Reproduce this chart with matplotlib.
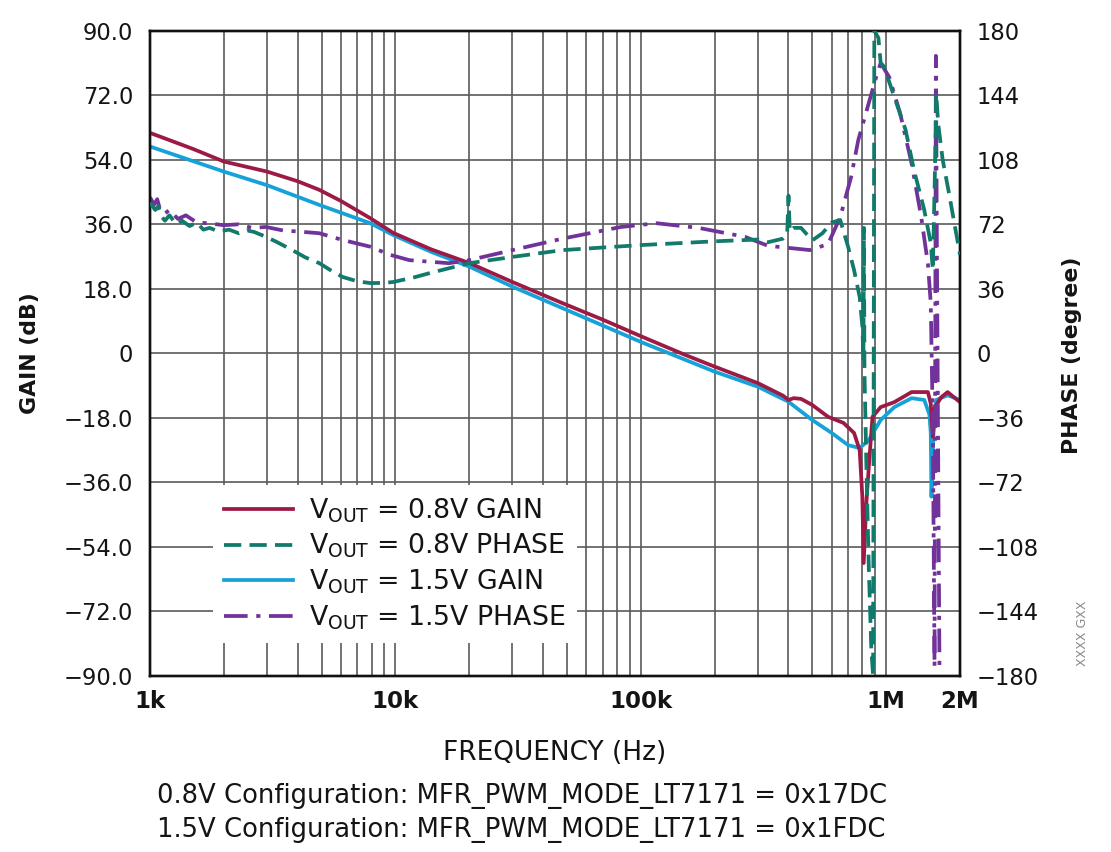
import matplotlib
matplotlib.use("Agg")
import matplotlib.pyplot as plt

plt.rcParams['font.family'] = ['DejaVu Sans']
plt.rcParams['mathtext.default'] = 'regular'

# ---------------- data ----------------
f_gain_08 = [1e3, 1.5e3, 2e3, 3e3, 4e3, 4.9e3, 6e3, 7.9e3, 9.8e3, 14e3, 20e3, 30e3,
             48e3, 70e3, 100e3, 150e3, 200e3, 300e3, 380e3, 400e3, 420e3, 450e3,
             500e3, 580e3, 670e3, 740e3, 780e3, 800e3, 810e3, 830e3, 850e3, 880e3,
             950e3, 1.08e6, 1.27e6, 1.48e6, 1.52e6, 1.55e6, 1.58e6, 1.68e6, 1.78e6, 2e6]
gain_08 = [61.5, 57.0, 53.5, 50.7, 48.0, 45.6, 42.5, 37.7, 33.6, 29.0, 25.2, 19.9,
           14.0, 9.4, 4.8, -0.3, -3.7, -8.3, -11.8, -13.0, -12.5, -12.7,
           -14.4, -17.7, -19.4, -22.2, -27.0, -40.0, -58.5, -42.0, -31.6, -17.7,
           -15.0, -13.6, -10.8, -10.8, -14.0, -23.3, -15.0, -12.2, -10.8, -13.6]

f_gain_15 = [1e3, 1.5e3, 2e3, 3e3, 4.9e3, 7.9e3, 9.8e3, 14e3, 20e3, 30e3, 48e3,
             100e3, 200e3, 300e3, 400e3, 500e3, 600e3, 700e3, 780e3, 850e3, 950e3,
             1.08e6, 1.27e6, 1.43e6, 1.50e6, 1.52e6, 1.53e6, 1.56e6, 1.6e6, 1.78e6, 2e6]
gain_15 = [57.7, 53.6, 50.7, 46.9, 41.4, 36.3, 33.0, 28.3, 24.2, 18.6, 12.6,
           3.2, -5.1, -9.3, -13.5, -18.6, -22.2, -25.6, -26.4, -24.2, -18.6,
           -15.0, -12.5, -13.0, -17.0, -22.2, -40.0, -22.0, -13.0, -11.7, -13.0]

f_phase_08 = [1000, 1050, 1080, 1120, 1150, 1200, 1280, 1350, 1450, 1550, 1650, 1750,
              1900, 2100, 2300, 2500, 2660, 2970, 3300, 3800, 4300, 4900, 5500, 6100,
              7000, 7900, 9000, 9800, 12e3, 14e3, 20e3, 30e3, 48e3, 100e3, 200e3,
              300e3, 330e3, 380e3, 395e3, 400e3, 405e3, 420e3, 450e3, 500e3, 550e3,
              600e3, 650e3, 700e3, 740e3, 780e3, 800e3, 808e3, 812e3, 816e3, 830e3,
              850e3, 870e3, 885e3, 895e3, 930e3, 950e3, 980e3, 1.08e6, 1.2e6, 1.3e6,
              1.43e6, 1.52e6, 1.55e6, 1.58e6, 1.6e6, 1.63e6, 1.7e6, 1.8e6, 1.9e6, 2.0e6]
phase_08 = [84, 80, 82, 76, 74, 77, 72, 74, 71, 73, 69, 70,
            68, 69, 67, 68.5, 67.7, 65, 62, 57.6, 53.5, 50.3, 46, 42.6,
            40.2, 39.2, 39.3, 39.8, 42.5, 45, 50.3, 53.8, 57.6, 60.4, 62.5,
            63.5, 62, 64, 66, 88, 68, 70, 70, 63, 67,
            73, 74.4, 59.4, 46.5, 31.5, 15, -4, 70, -10, -60,
            -120, -165, -180, 180, 176, 162, 160, 143, 124.7, 102,
            80, 61.5, 46.5, 100, 145, 128, 108, 90, 72, 55]

f_phase_15 = [1000, 1040, 1070, 1100, 1150, 1200, 1300, 1400, 1550, 1720, 2000, 2300,
              2600, 2970, 3500, 4000, 4900, 6000, 7900, 9500, 11.4e3, 16.5e3, 20e3,
              30e3, 48e3, 83e3, 116e3, 172e3, 266e3, 330e3, 490e3, 580e3, 650e3,
              720e3, 770e3, 850e3, 910e3, 950e3, 1.03e6, 1.14e6, 1.27e6, 1.39e6,
              1.48e6, 1.52e6, 1.55e6, 1.575e6, 1.595e6, 1.61e6, 1.63e6, 1.65e6]
phase_15 = [87, 83, 86, 80, 78, 80, 75, 77, 73, 72.6, 71.5, 72,
            70, 70.5, 68.5, 68, 67, 63.5, 59.5, 55, 52, 50.3, 52,
            57.6, 64, 70.5, 72.6, 70, 65, 60, 57.6, 61, 76,
            98.4, 119, 139.7, 154, 162, 154, 134, 106, 76,
            50, 28, -40, -175, 166, 60, -60, -178]

gain_ticks = [90, 72, 54, 36, 18, 0, -18, -36, -54, -72, -90]
gain_labels = ['90.0', '72.0', '54.0', '36.0', '18.0', '0', '\u221218.0', '\u221236.0',
               '\u221254.0', '\u221272.0', '\u221290.0']
phase_ticks = [180, 144, 108, 72, 36, 0, -36, -72, -108, -144, -180]
phase_labels = ['180', '144', '108', '72', '36', '0', '\u221236', '\u221272',
                '\u2212108', '\u2212144', '\u2212180']
freq_ticks = [1e3, 1e4, 1e5, 1e6, 2e6]
freq_labels = ['1k', '10k', '100k', '1M', '2M']
minor_ticks = [m * 10 ** e for e in (3, 4, 5) for m in range(2, 10)]

series_labels = [r'V$_{OUT}$ = 0.8V GAIN', r'V$_{OUT}$ = 0.8V PHASE',
                 r'V$_{OUT}$ = 1.5V GAIN', r'V$_{OUT}$ = 1.5V PHASE']

RED = '#9c1a44'
TEAL = '#127a6b'
BLUE = '#16a2d9'
PURPLE = '#71339a'
GRID = '#5a5a5a'
TXT = '#141414'

fig = plt.figure(figsize=(11.11, 8.52), dpi=100)
ax = fig.add_axes([150 / 1111, 1 - 676 / 852, 810 / 1111, 645.3 / 852])
ax2 = ax.twinx()

LW = 2.7
l1, = ax.plot(f_gain_08, gain_08, color=RED, lw=LW, zorder=3)
l3, = ax.plot(f_gain_15, gain_15, color=BLUE, lw=LW, zorder=2)
l4, = ax2.plot(f_phase_15, phase_15, color=PURPLE, lw=LW,
               dashes=(6.3, 2.3, 1.1, 2.3), dash_capstyle='butt', zorder=2)
l2, = ax2.plot(f_phase_08, phase_08, color=TEAL, lw=LW,
               dashes=(4.6, 2.2), dash_capstyle='butt', zorder=3)

ax.set_xscale('log')
ax.set_xlim(1e3, 2e6)
ax.set_ylim(-90, 90)
ax2.set_ylim(-180, 180)

ax.set_xticks(freq_ticks)
ax.set_xticklabels(freq_labels, fontsize=16.5, fontweight='bold')
ax.set_xticks(minor_ticks, minor=True)
ax.set_xticklabels([], minor=True)
ax.set_yticks(gain_ticks)
ax.set_yticklabels(gain_labels, fontsize=16.3)
ax2.set_yticks(phase_ticks)
ax2.set_yticklabels(phase_labels, fontsize=16.3)

ax.tick_params(axis='both', which='both', length=0, colors=TXT)
ax.tick_params(axis='x', pad=10)
ax.tick_params(axis='y', pad=12)
ax2.tick_params(axis='y', length=0, pad=12, colors=TXT)

ax.grid(True, which='both', color=GRID, lw=1.2)
ax.set_axisbelow(True)
for a in (ax, ax2):
    for s in a.spines.values():
        s.set_color('#111111')
        s.set_linewidth(1.7)

leg = ax2.legend([l1, l2, l3, l4], series_labels, loc='upper left',
                 bbox_to_anchor=(0.078, 0.296), borderaxespad=0,
                 fontsize=19.3, frameon=True, fancybox=False, framealpha=1,
                 facecolor='white', edgecolor='none', handlelength=2.55,
                 handletextpad=0.62, labelspacing=0.27, borderpad=0.42,
                 labelcolor=TXT)
leg.set_zorder(10)

fig.text(30 / 1111, 1 - 353 / 852, 'GAIN (dB)', rotation=90, fontsize=15.8,
         fontweight='bold', ha='center', va='center', color=TXT)
fig.text(1072 / 1111, 1 - 355 / 852, 'PHASE (degree)', rotation=90, fontsize=15.8,
         fontweight='bold', ha='center', va='center', color=TXT)
fig.text(555 / 1111, 1 - 753 / 852, 'FREQUENCY (Hz)', fontsize=19,
         ha='center', va='center', color=TXT)
fig.text(157 / 1111, 1 - 796 / 852,
         '0.8V Configuration: MFR_PWM_MODE_LT7171 = 0x17DC', fontsize=18.6,
         ha='left', va='center', color=TXT)
fig.text(157 / 1111, 1 - 830 / 852,
         '1.5V Configuration: MFR_PWM_MODE_LT7171 = 0x1FDC', fontsize=18.6,
         ha='left', va='center', color=TXT)
fig.text(1082 / 1111, 1 - 633 / 852, 'XXXX GXX', rotation=90, fontsize=9,
         ha='center', va='center', color='#8a8a8a')

fig.savefig('out.png', dpi=100)
